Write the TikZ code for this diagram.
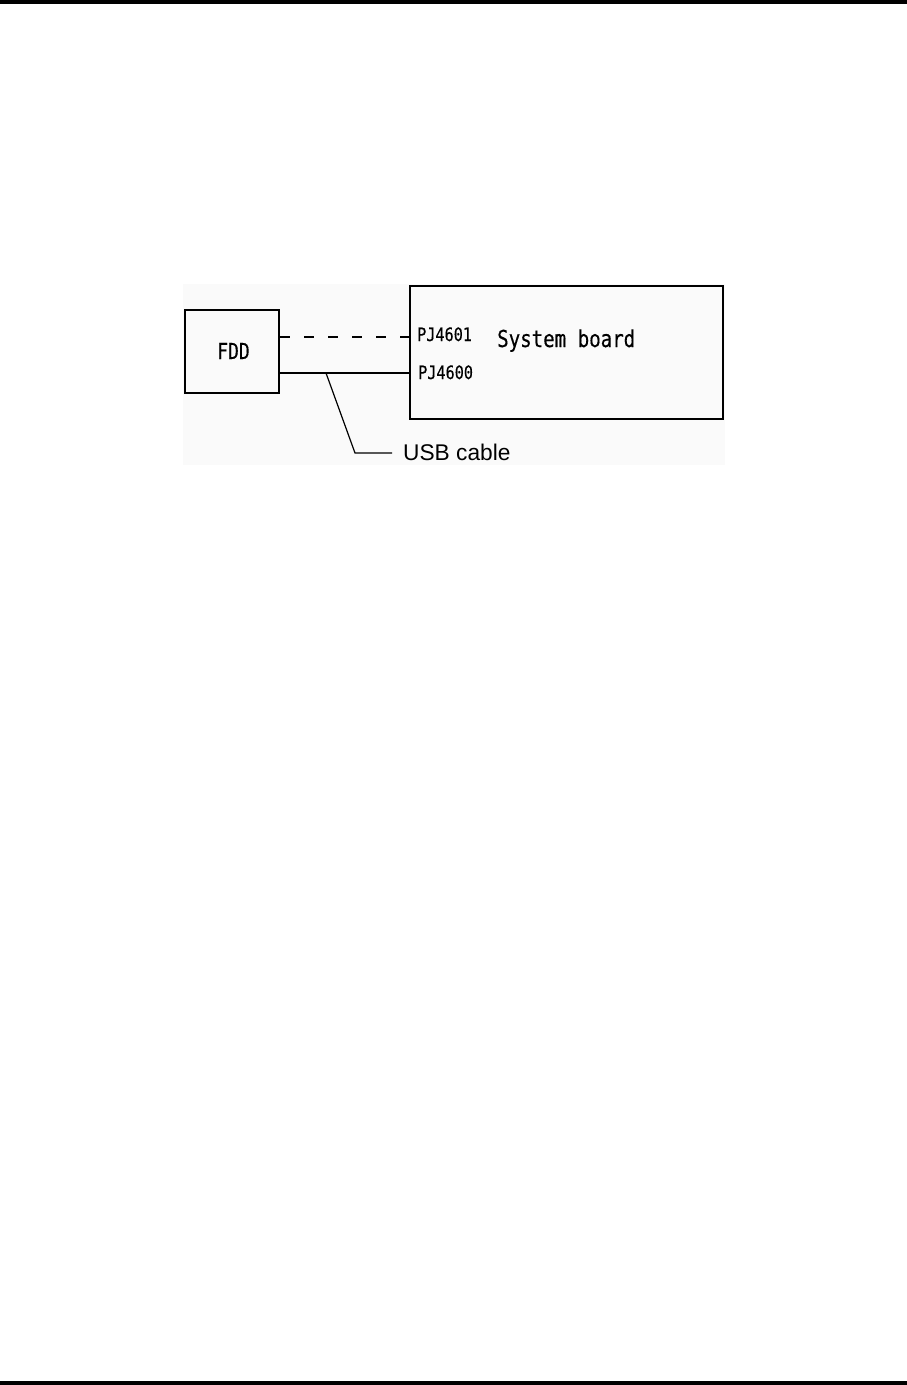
\documentclass[tikz,border=0pt]{standalone}
\usepackage{fontspec}
\setmainfont{Liberation Sans}
\newfontfamily\boardfont[FakeStretch=0.82,FakeBold=0.3]{DejaVu Sans Mono}
\usepackage{tikz}
\usetikzlibrary{positioning}

\begin{document}
\begin{tikzpicture}[
    x=1pt, y=-1pt,
    box/.style={rectangle, draw, line width=2.5pt, inner sep=0pt},
    tag/.style={inner sep=0pt, font=\boardfont\fontsize{18.5}{22}\selectfont},
    cable/.style={line width=2.5pt},
    plug/.style={line width=2.8pt, dash pattern=on 10pt off 14pt},
    leader/.style={line width=1.2pt},
]
    \useasboundingbox (0,0) rectangle (907,1385);
    \fill (0,0) rectangle (907,4);
    \fill (0,1381) rectangle (907,1385);
    \fill[black!2] (183,284) rectangle (725,465);

    \node[box, minimum width=94pt, minimum height=83pt] (fdd) at (232,351.5) {};
    \node[inner sep=0pt, anchor=base, font=\boardfont\fontsize{22}{26}\selectfont] (fddname) at (233.5,359) {FDD};
    \node[box, minimum width=313pt, minimum height=133pt] (board) at (566.5,352.5) {};
    \node[inner sep=0pt, anchor=base west, font=\boardfont\fontsize{23.3}{28}\selectfont] (sysb) at (497,347) {System board};
    \node[tag, anchor=base west] (pj1) at (417,341) {PJ4601};
    \node[tag, anchor=base west] (pj0) at (418,379) {PJ4600};

    \coordinate (in1) at (board.west |- 0,337);
    \coordinate (in0) at (board.west |- 0,373);
    \draw[plug] (fdd.east |- in1) -- (in1);
    \draw[cable] (fdd.east |- in0) -- (in0);

    \node[inner sep=0pt, anchor=base west, font=\fontsize{22.7}{27}\selectfont] (usb) at (403,460) {USB cable};
    \coordinate (tap) at (326,373);
    \coordinate (bend) at (355,453);
    \draw[leader] (tap) -- (bend) -- ([xshift=-11pt]usb.west |- bend);
\end{tikzpicture}
\end{document}
